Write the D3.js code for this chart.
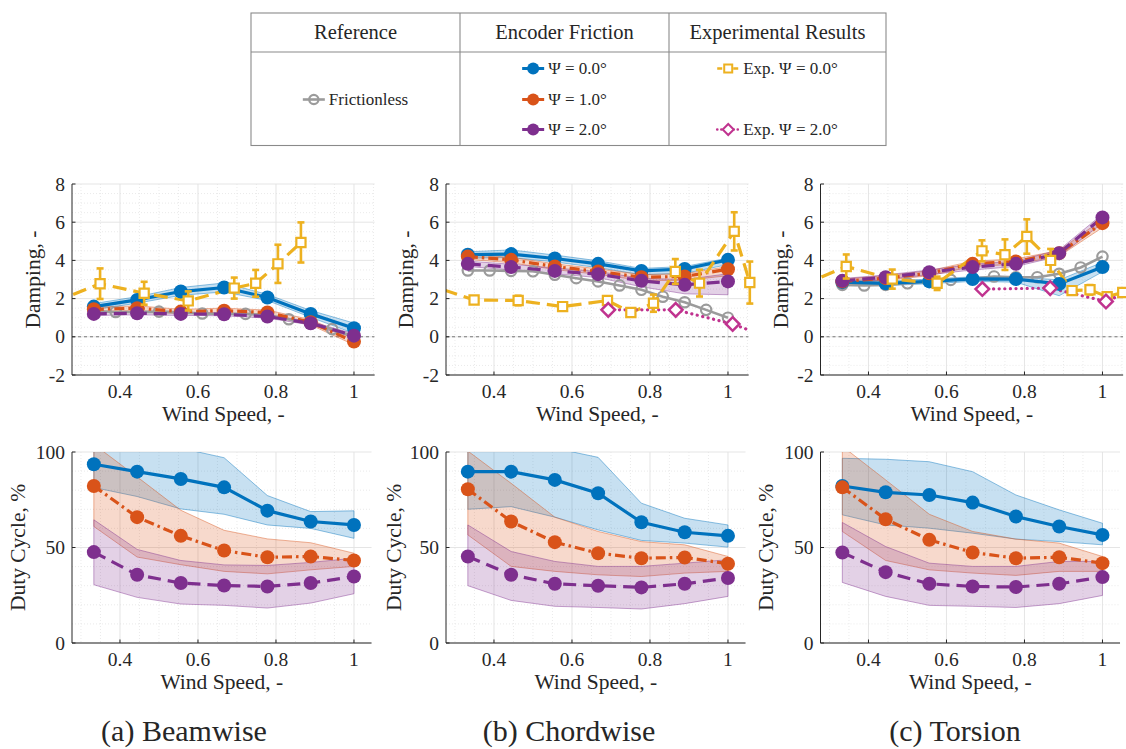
<!DOCTYPE html>
<html>
<head>
<meta charset="utf-8">
<script src="https://cdn.jsdelivr.net/npm/d3@7"></script>
<style>
  body { margin: 0; background: #fff; }
  svg { display: block; }
  text { font-family: "Liberation Serif", "DejaVu Serif", serif; fill: #262626; }
</style>
</head>
<body>
<svg id="fig" width="1126" height="749"></svg>
<script>
// ---------- data ----------
const windSpeed = [0.333, 0.444, 0.556, 0.667, 0.778, 0.889, 1.0];
const windSpeedFine = [0.333, 0.389, 0.444, 0.5, 0.556, 0.611, 0.667, 0.722, 0.778, 0.833, 0.889, 0.944, 1.0];

const psiLabels = ["\u03A8 = 0.0\u00B0", "\u03A8 = 1.0\u00B0", "\u03A8 = 2.0\u00B0"];
const captions = ["(a) Beamwise", "(b) Chordwise", "(c) Torsion"];
const dampTicks = [-2, 0, 2, 4, 6, 8];
const dutyTicks = [0, 50, 100];
const speedTicks = [0.4, 0.6, 0.8, 1];

// Beamwise damping
const bwFric = [1.35, 1.3, 1.3, 1.32, 1.28, 1.22, 1.2, 1.2, 1.15, 0.92, 0.7, 0.4, 0.02];
const bwDamp0 = [1.58, 1.93, 2.37, 2.58, 2.06, 1.2, 0.45];
const bwDamp0Lo = [1.42, 1.76, 2.17, 2.35, 1.9, 1.02, 0.18];
const bwDamp0Hi = [1.74, 2.1, 2.58, 2.82, 2.22, 1.38, 0.72];
const bwDamp1 = [1.44, 1.5, 1.32, 1.37, 1.27, 0.76, -0.25];
const bwDamp1Lo = [1.32, 1.38, 1.2, 1.24, 1.14, 0.62, -0.42];
const bwDamp1Hi = [1.56, 1.62, 1.44, 1.5, 1.4, 0.9, -0.08];
const bwDamp2 = [1.2, 1.23, 1.2, 1.18, 1.06, 0.71, 0.06];
const bwDamp2Lo = [1.12, 1.15, 1.12, 1.1, 0.98, 0.62, -0.04];
const bwDamp2Hi = [1.28, 1.31, 1.28, 1.26, 1.14, 0.8, 0.16];
const bwExp0Speed = [0.23, 0.349, 0.462, 0.575, 0.693, 0.748, 0.805, 0.864];
const bwExp0 = [1.8, 2.78, 2.28, 1.88, 2.55, 2.8, 3.82, 4.94];
const bwExp0Err = [0.5, 0.8, 0.6, 0.5, 0.55, 0.7, 1.0, 1.05];

// Chordwise damping
const cwFric = [3.47, 3.47, 3.45, 3.43, 3.25, 3.07, 2.9, 2.69, 2.46, 2.1, 1.81, 1.41, 1.0];
const cwDamp0 = [4.3, 4.33, 4.1, 3.82, 3.45, 3.55, 4.03];
const cwDamp0Lo = [4.12, 4.15, 3.92, 3.62, 3.25, 3.32, 3.78];
const cwDamp0Hi = [4.45, 4.55, 4.28, 3.98, 3.58, 3.68, 4.12];
const cwDamp1 = [4.2, 4.03, 3.68, 3.42, 3.12, 3.16, 3.54];
const cwDamp1Lo = [4.05, 3.88, 3.52, 3.27, 2.95, 2.95, 3.2];
const cwDamp1Hi = [4.32, 4.16, 3.82, 3.56, 3.26, 3.3, 3.68];
const cwDamp2 = [3.82, 3.65, 3.45, 3.28, 2.93, 2.72, 2.9];
const cwDamp2Lo = [3.68, 3.5, 3.3, 3.1, 2.62, 2.25, 2.2];
const cwDamp2Hi = [3.96, 3.8, 3.6, 3.42, 3.06, 3.0, 3.3];
const cwExp0Speed = [0.22, 0.349, 0.462, 0.576, 0.691, 0.751, 0.809, 0.865, 0.927, 1.016, 1.056];
const cwExp0 = [2.8, 1.93, 1.9, 1.58, 1.9, 1.27, 1.76, 3.42, 2.81, 5.52, 2.84];
const cwExp0Err = [0.2, 0.12, 0.25, 0.12, 0.15, 0.2, 0.45, 0.65, 0.7, 1.0, 1.1];
const cwExp2Speed = [0.693, 0.866, 1.012, 1.1];
const cwExp2 = [1.41, 1.41, 0.67, 0.0];

// Torsion damping
const toFric = [2.72, 2.69, 2.72, 2.8, 2.9, 2.98, 3.05, 3.16, 3.12, 3.12, 3.3, 3.63, 4.2];
const toDamp0 = [2.86, 2.8, 2.9, 3.03, 3.02, 2.77, 3.65];
const toDamp0Lo = [2.72, 2.68, 2.78, 2.9, 2.86, 2.15, 3.4];
const toDamp0Hi = [2.98, 2.92, 3.02, 3.14, 3.14, 2.98, 3.9];
const toDamp1 = [2.9, 3.07, 3.33, 3.82, 3.94, 4.38, 5.95];
const toDamp1Lo = [2.78, 2.95, 3.2, 3.68, 3.8, 4.22, 5.72];
const toDamp1Hi = [3.02, 3.2, 3.46, 3.96, 4.08, 4.52, 6.15];
const toDamp2 = [2.93, 3.12, 3.38, 3.65, 3.82, 4.38, 6.25];
const toDamp2Lo = [2.82, 3.0, 3.25, 3.5, 3.68, 4.22, 5.95];
const toDamp2Hi = [3.05, 3.24, 3.5, 3.8, 3.96, 4.55, 6.42];
const toExp0Speed = [0.23, 0.343, 0.461, 0.576, 0.691, 0.75, 0.806, 0.867, 0.922, 0.968, 1.012, 1.052];
const toExp0 = [2.7, 3.68, 3.02, 2.8, 4.5, 4.3, 5.25, 4.0, 2.42, 2.46, 2.1, 2.32];
const toExp0Err = [0.3, 0.63, 0.5, 0.35, 0.55, 0.8, 0.9, 0.6, 0.15, 0.25, 0.2, 0.2];
const toExp2Speed = [0.692, 0.866, 1.009, 1.12];
const toExp2 = [2.5, 2.55, 1.85, 2.85];

// Duty cycle, beamwise
const bwDuty0 = [93.6, 89.7, 85.9, 81.5, 69.3, 63.6, 61.8];
const bwDuty0Lo = [81.4, 76.7, 70.2, 67.4, 61.8, 60, 54.8];
const bwDuty0Hi = [110, 108, 102, 97, 77.2, 68.8, 69.2];
const bwDuty1 = [82.2, 65.9, 56.1, 48.4, 44.9, 45.3, 43.2];
const bwDuty1Lo = [61, 45, 41, 37.5, 36.2, 38.3, 40.1];
const bwDuty1Hi = [104, 87, 69.5, 59, 54.5, 52.5, 47];
const bwDuty2 = [47.6, 35.7, 31.4, 30.1, 29.6, 31.4, 34.8];
const bwDuty2Lo = [30.5, 23.9, 20.4, 19.7, 18.3, 20.9, 25.8];
const bwDuty2Hi = [64.5, 49, 43.2, 40.9, 40.6, 42.2, 44.4];

// Duty cycle, chordwise
const cwDuty0 = [89.7, 89.7, 85.4, 78.4, 63.2, 58, 56.1];
const cwDuty0Lo = [70, 71.4, 65.9, 59.2, 53.7, 52.3, 50.2];
const cwDuty0Hi = [110, 108, 102, 97.2, 73.2, 65.3, 61.8];
const cwDuty1 = [80.5, 63.6, 52.8, 47, 44.4, 44.8, 41.5];
const cwDuty1Lo = [56.6, 40.1, 37.5, 35.7, 34.8, 36.6, 37.5];
const cwDuty1Hi = [100.5, 83.6, 65.9, 58.4, 53.1, 51.4, 45.3];
const cwDuty2 = [45.3, 35.7, 31, 30, 29.1, 31, 34];
const cwDuty2Lo = [30, 22.3, 19.2, 18.6, 17.8, 20.6, 24.4];
const cwDuty2Hi = [61.8, 47.9, 42.7, 40.1, 40.1, 41.8, 43.6];

// Duty cycle, torsion
const toDuty0 = [82.2, 78.9, 77.5, 73.5, 66.2, 61, 56.6];
const toDuty0Lo = [67.1, 61.8, 60.1, 57.5, 54.4, 53.1, 51.4];
const toDuty0Hi = [96.7, 96.2, 94.9, 89.7, 77.5, 69.7, 62.7];
const toDuty1 = [81.5, 64.8, 54, 47.4, 44.4, 44.9, 41.8];
const toDuty1Lo = [58.4, 43.2, 38.3, 36.6, 35.4, 37.5, 37.5];
const toDuty1Hi = [103, 85.4, 67.4, 58.4, 54.4, 52.3, 45.3];
const toDuty2 = [47.4, 37.1, 31, 29.6, 29.3, 31, 34.5];
const toDuty2Lo = [31.7, 24.4, 19.7, 19.2, 18.6, 20.6, 24.9];
const toDuty2Hi = [63.1, 50.5, 41.8, 40.1, 40.1, 42.7, 42.7];

// ---------- styles ----------
const psiColors = ["#0072BD", "#D95319", "#7E2F8E"];
const psiDash = [null, "10,4,2.5,4", "13,7"];
const fricColor = "#9b9b9b";
const exp0Color = "#EDB120";
const exp2Color = "#C0338F";
const axisColor = "#262626";

const svg = d3.select("#fig");
const defs = svg.append("defs");

const X_MIN = 0.277;
const PX_PER_UNIT = 390;
const colLeft = [72, 446, 820.5];
const rowSpec = {
  damp: { top: 184, bottom: 375, domain: [-2, 8], ticks: dampTicks, minor: 0.5, xMax: 1.053,
          label: "Damping, -", labelX: [40, 413, 788] },
  duty: { top: 452, bottom: 643, domain: [0, 100], ticks: dutyTicks, minor: 10, xMax: 1.045,
          label: "Duty Cycle, %", labelX: [25, 401, 773] }
};

const panels = [
  { col: 0, row: "damp", fric: bwFric,
    psi: [[bwDamp0, bwDamp0Lo, bwDamp0Hi], [bwDamp1, bwDamp1Lo, bwDamp1Hi], [bwDamp2, bwDamp2Lo, bwDamp2Hi]],
    exp0: [bwExp0Speed, bwExp0, bwExp0Err], exp2: null },
  { col: 1, row: "damp", fric: cwFric,
    psi: [[cwDamp0, cwDamp0Lo, cwDamp0Hi], [cwDamp1, cwDamp1Lo, cwDamp1Hi], [cwDamp2, cwDamp2Lo, cwDamp2Hi]],
    exp0: [cwExp0Speed, cwExp0, cwExp0Err], exp2: [cwExp2Speed, cwExp2] },
  { col: 2, row: "damp", fric: toFric,
    psi: [[toDamp0, toDamp0Lo, toDamp0Hi], [toDamp1, toDamp1Lo, toDamp1Hi], [toDamp2, toDamp2Lo, toDamp2Hi]],
    exp0: [toExp0Speed, toExp0, toExp0Err], exp2: [toExp2Speed, toExp2] },
  { col: 0, row: "duty", fric: null,
    psi: [[bwDuty0, bwDuty0Lo, bwDuty0Hi], [bwDuty1, bwDuty1Lo, bwDuty1Hi], [bwDuty2, bwDuty2Lo, bwDuty2Hi]] },
  { col: 1, row: "duty", fric: null,
    psi: [[cwDuty0, cwDuty0Lo, cwDuty0Hi], [cwDuty1, cwDuty1Lo, cwDuty1Hi], [cwDuty2, cwDuty2Lo, cwDuty2Hi]] },
  { col: 2, row: "duty", fric: null,
    psi: [[toDuty0, toDuty0Lo, toDuty0Hi], [toDuty1, toDuty1Lo, toDuty1Hi], [toDuty2, toDuty2Lo, toDuty2Hi]] }
];

function squarePath(cx, cy, s) {
  return `M${cx - s},${cy - s}H${cx + s}V${cy + s}H${cx - s}Z`;
}
function diamondPath(cx, cy, s) {
  return `M${cx},${cy - s}L${cx + s},${cy}L${cx},${cy + s}L${cx - s},${cy}Z`;
}

panels.forEach((p, idx) => {
  const r = rowSpec[p.row];
  const left = colLeft[p.col];
  const right = left + (r.xMax - X_MIN) * PX_PER_UNIT;
  const x = d3.scaleLinear().domain([X_MIN, r.xMax]).range([left, right]);
  const y = d3.scaleLinear().domain(r.domain).range([r.bottom, r.top]);
  const g = svg.append("g").attr("class", "panel");

  // clip region for data
  const clipId = "clip" + idx;
  defs.append("clipPath").attr("id", clipId)
    .append("rect").attr("x", left).attr("y", r.top).attr("width", right - left).attr("height", r.bottom - r.top);

  // minor grid
  const minorX = d3.range(6, 22).map(k => +(k * 0.05).toFixed(2)).filter(v => v <= r.xMax && speedTicks.indexOf(v) < 0);
  const minorY = d3.range(r.domain[0], r.domain[1] + 1e-9, r.minor).filter(v => r.ticks.indexOf(v) < 0);
  g.append("g").selectAll("line").data(minorX).join("line")
    .attr("x1", d => x(d)).attr("x2", d => x(d)).attr("y1", r.top).attr("y2", r.bottom)
    .attr("stroke", "#e4e4e4").attr("stroke-width", 0.8).attr("stroke-dasharray", "1,2");
  g.append("g").selectAll("line").data(minorY).join("line")
    .attr("x1", left).attr("x2", right).attr("y1", d => y(d)).attr("y2", d => y(d))
    .attr("stroke", "#e4e4e4").attr("stroke-width", 0.8).attr("stroke-dasharray", "1,2");
  // major grid
  g.append("g").selectAll("line").data(speedTicks).join("line")
    .attr("x1", d => x(d)).attr("x2", d => x(d)).attr("y1", r.top).attr("y2", r.bottom)
    .attr("stroke", "#e2e2e2").attr("stroke-width", 0.9);
  g.append("g").selectAll("line").data(r.ticks).join("line")
    .attr("x1", left).attr("x2", right).attr("y1", d => y(d)).attr("y2", d => y(d))
    .attr("stroke", "#e2e2e2").attr("stroke-width", 0.9);

  const data = g.append("g").attr("clip-path", `url(#${clipId})`);

  // zero reference line
  if (p.row === "damp") {
    data.append("line").attr("x1", left).attr("x2", right).attr("y1", y(0)).attr("y2", y(0))
      .attr("stroke", "#7a7a7a").attr("stroke-width", 1.1).attr("stroke-dasharray", "3,3");
  }

  // uncertainty bands
  p.psi.forEach((s, i) => {
    const [, lo, hi] = s;
    const pts = windSpeed.map((w, k) => ({ w, lo: lo[k], hi: hi[k] }));
    const area = d3.area().x(d => x(d.w)).y0(d => y(d.lo)).y1(d => y(d.hi));
    data.append("path").datum(pts).attr("d", area)
      .attr("fill", psiColors[i]).attr("fill-opacity", 0.22)
      .attr("stroke", psiColors[i]).attr("stroke-opacity", 0.55).attr("stroke-width", 0.8);
  });

  const line = d3.line().x(d => x(d[0])).y(d => y(d[1]));

  // frictionless reference
  if (p.fric) {
    const pts = windSpeedFine.map((w, k) => [w, p.fric[k]]);
    data.append("path").datum(pts).attr("d", line)
      .attr("fill", "none").attr("stroke", fricColor).attr("stroke-width", 2.6);
    data.append("g").selectAll("circle").data(pts).join("circle")
      .attr("cx", d => x(d[0])).attr("cy", d => y(d[1])).attr("r", 5.2)
      .attr("fill", "none").attr("stroke", fricColor).attr("stroke-width", 2.2);
  }

  // encoder friction series
  p.psi.forEach((s, i) => {
    const pts = windSpeed.map((w, k) => [w, s[0][k]]);
    const path = data.append("path").datum(pts).attr("d", line)
      .attr("fill", "none").attr("stroke", psiColors[i]).attr("stroke-width", 3.2);
    if (psiDash[i]) path.attr("stroke-dasharray", psiDash[i]);
    g.append("g").selectAll("circle").data(pts).join("circle")
      .attr("cx", d => x(d[0])).attr("cy", d => y(d[1])).attr("r", 7)
      .attr("fill", psiColors[i]);
  });

  const inView = w => w >= X_MIN - 0.002 && w <= r.xMax + 0.006;

  // experimental, psi = 0
  if (p.exp0) {
    const [ws, vs, es] = p.exp0;
    const pts = ws.map((w, k) => [w, vs[k], es[k]]);
    data.append("path").datum(pts).attr("d", line)
      .attr("fill", "none").attr("stroke", exp0Color).attr("stroke-width", 3.2)
      .attr("stroke-dasharray", "14,7");
    const vis = pts.filter(d => inView(d[0]));
    const eb = g.append("g").attr("stroke", exp0Color).attr("stroke-width", 2.6);
    eb.selectAll("line.v").data(vis).join("line").attr("class", "v")
      .attr("x1", d => x(d[0])).attr("x2", d => x(d[0]))
      .attr("y1", d => y(d[1] - d[2])).attr("y2", d => y(d[1] + d[2]));
    eb.selectAll("line.t").data(vis).join("line").attr("class", "t")
      .attr("x1", d => x(d[0]) - 3.5).attr("x2", d => x(d[0]) + 3.5)
      .attr("y1", d => y(d[1] + d[2])).attr("y2", d => y(d[1] + d[2]));
    eb.selectAll("line.b").data(vis).join("line").attr("class", "b")
      .attr("x1", d => x(d[0]) - 3.5).attr("x2", d => x(d[0]) + 3.5)
      .attr("y1", d => y(d[1] - d[2])).attr("y2", d => y(d[1] - d[2]));
    g.append("g").selectAll("path").data(vis).join("path")
      .attr("d", d => squarePath(x(d[0]), y(d[1]), 4.6))
      .attr("fill", "#fff").attr("stroke", exp0Color).attr("stroke-width", 2.2);
  }

  // experimental, psi = 2
  if (p.exp2) {
    const [ws, vs] = p.exp2;
    const pts = ws.map((w, k) => [w, vs[k]]);
    data.append("path").datum(pts).attr("d", line)
      .attr("fill", "none").attr("stroke", exp2Color).attr("stroke-width", 3.2)
      .attr("stroke-linecap", "round").attr("stroke-dasharray", "0.1,5.5");
    g.append("g").selectAll("path").data(pts.filter(d => inView(d[0]))).join("path")
      .attr("d", d => diamondPath(x(d[0]), y(d[1]), 6.8))
      .attr("fill", "#fff").attr("stroke", exp2Color).attr("stroke-width", 2.5);
  }

  // axes (left and bottom only)
  const ax = g.append("g").attr("stroke", axisColor).attr("stroke-width", 1);
  ax.append("line").attr("x1", left).attr("x2", left).attr("y1", r.top).attr("y2", r.bottom);
  ax.append("line").attr("x1", left).attr("x2", right).attr("y1", r.bottom).attr("y2", r.bottom);
  ax.selectAll("line.xt").data(speedTicks).join("line").attr("class", "xt")
    .attr("x1", d => x(d)).attr("x2", d => x(d)).attr("y1", r.bottom).attr("y2", r.bottom - 3.5);
  ax.selectAll("line.yt").data(r.ticks).join("line").attr("class", "yt")
    .attr("x1", left).attr("x2", left + 3.5).attr("y1", d => y(d)).attr("y2", d => y(d));

  g.append("g").selectAll("text").data(speedTicks).join("text")
    .attr("x", d => x(d)).attr("y", r.bottom + 23).attr("text-anchor", "middle")
    .attr("font-size", 19.5).text(d => String(d));
  g.append("g").selectAll("text").data(r.ticks).join("text")
    .attr("x", left - 7).attr("y", d => y(d)).attr("dy", "0.34em").attr("text-anchor", "end")
    .attr("font-size", 19.5).text(d => String(d));

  g.append("text").attr("x", (left + right) / 2).attr("y", r.bottom + 46)
    .attr("text-anchor", "middle").attr("font-size", 21.5).text("Wind Speed, -");
  const ly = (r.top + r.bottom) / 2;
  g.append("text").attr("transform", `translate(${r.labelX[p.col]},${ly}) rotate(-90)`)
    .attr("text-anchor", "middle").attr("font-size", 21.5).text(r.label);
});

// sub-figure captions
svg.append("g").selectAll("text").data(captions).join("text")
  .attr("x", (d, i) => [184, 569, 955][i]).attr("y", 741)
  .attr("text-anchor", "middle").attr("font-size", 30).text(d => d);

// ---------- legend table ----------
const leg = svg.append("g").attr("class", "legend");
const tbl = { left: 251, right: 886, top: 13, bottom: 145.5, head: 52, div: [460, 669] };
leg.append("rect").attr("x", tbl.left).attr("y", tbl.top)
  .attr("width", tbl.right - tbl.left).attr("height", tbl.bottom - tbl.top)
  .attr("fill", "#fff").attr("stroke", "#8a8a8a").attr("stroke-width", 1.1);
leg.append("line").attr("x1", tbl.left).attr("x2", tbl.right).attr("y1", tbl.head).attr("y2", tbl.head)
  .attr("stroke", "#8a8a8a").attr("stroke-width", 1.1);
tbl.div.forEach(dx => leg.append("line").attr("x1", dx).attr("x2", dx)
  .attr("y1", tbl.top).attr("y2", tbl.bottom).attr("stroke", "#8a8a8a").attr("stroke-width", 1.1));

const colEdges = [tbl.left, tbl.div[0], tbl.div[1], tbl.right];
const headers = ["Reference", "Encoder Friction", "Experimental Results"];
leg.selectAll("text.h").data(headers).join("text").attr("class", "h")
  .attr("x", (d, i) => (colEdges[i] + colEdges[i + 1]) / 2).attr("y", 39)
  .attr("text-anchor", "middle").attr("font-size", 20.5).text(d => d);

const rowY = [68.5, 99.5, 129.5];
const entries = [
  { col: 0, y: rowY[1], label: "Frictionless", kind: "fric" },
  { col: 1, y: rowY[0], label: psiLabels[0], kind: "psi", i: 0 },
  { col: 1, y: rowY[1], label: psiLabels[1], kind: "psi", i: 1 },
  { col: 1, y: rowY[2], label: psiLabels[2], kind: "psi", i: 2 },
  { col: 2, y: rowY[0], label: "Exp. " + psiLabels[0], kind: "exp0" },
  { col: 2, y: rowY[2], label: "Exp. " + psiLabels[2], kind: "exp2" }
];
entries.forEach(e => {
  const eg = leg.append("g");
  const t = eg.append("text").attr("font-size", 17).attr("y", e.y + 5.5).text(e.label);
  const tw = t.node().getComputedTextLength();
  const total = 22 + 4 + tw;
  const cx = (colEdges[e.col] + colEdges[e.col + 1]) / 2;
  const x0 = cx - total / 2;
  const mx = x0 + 11;
  t.attr("x", x0 + 26);
  if (e.kind === "fric") {
    eg.append("line").attr("x1", x0).attr("x2", x0 + 22).attr("y1", e.y).attr("y2", e.y)
      .attr("stroke", fricColor).attr("stroke-width", 2.6);
    eg.append("circle").attr("cx", mx).attr("cy", e.y).attr("r", 4.6)
      .attr("fill", "none").attr("stroke", fricColor).attr("stroke-width", 2.2);
  } else if (e.kind === "psi") {
    eg.append("line").attr("x1", x0).attr("x2", x0 + 22).attr("y1", e.y).attr("y2", e.y)
      .attr("stroke", psiColors[e.i]).attr("stroke-width", 3);
    eg.append("circle").attr("cx", mx).attr("cy", e.y).attr("r", 6)
      .attr("fill", psiColors[e.i]);
  } else if (e.kind === "exp0") {
    eg.append("line").attr("x1", x0).attr("x2", x0 + 22).attr("y1", e.y).attr("y2", e.y)
      .attr("stroke", exp0Color).attr("stroke-width", 2.6).attr("stroke-dasharray", "5,3");
    eg.append("path").attr("d", squarePath(mx, e.y, 4))
      .attr("fill", "#fff").attr("stroke", exp0Color).attr("stroke-width", 2);
  } else {
    eg.append("line").attr("x1", x0).attr("x2", x0 + 22).attr("y1", e.y).attr("y2", e.y)
      .attr("stroke", exp2Color).attr("stroke-width", 2.6).attr("stroke-linecap", "round")
      .attr("stroke-dasharray", "0.1,4");
    eg.append("path").attr("d", diamondPath(mx, e.y, 5.5))
      .attr("fill", "#fff").attr("stroke", exp2Color).attr("stroke-width", 2);
  }
});
</script>
</body>
</html>
